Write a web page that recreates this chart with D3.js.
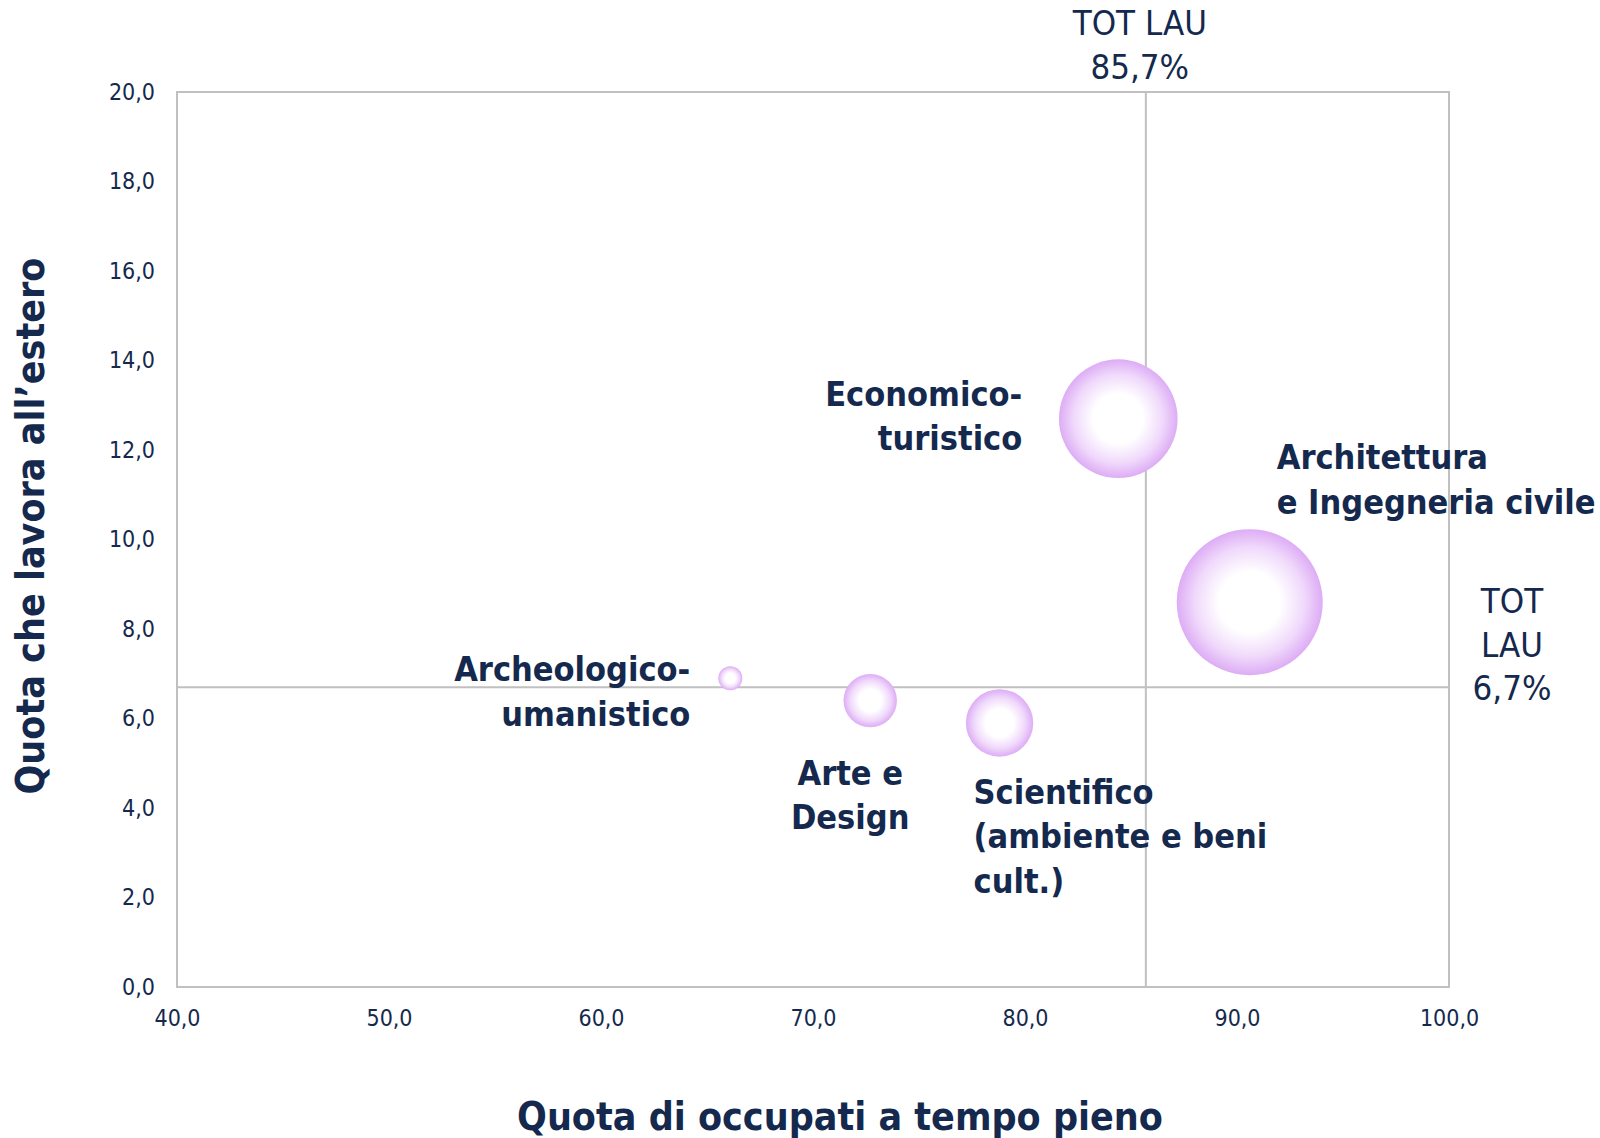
<!DOCTYPE html>
<html>
<head>
<meta charset="utf-8">
<script src="https://cdn.jsdelivr.net/npm/d3@7"></script>
<style>
  body { margin: 0; background: #fff; }
  text { font-family: "DejaVu Sans Condensed", "DejaVu Sans", sans-serif; fill: #14294d; }
  .axis text { font-size: 23px; }
  .bubble-label { font-size: 34px; font-weight: bold; }
  .tot-label { font-size: 34.5px; }
  .title { font-size: 39px; font-weight: bold; }
</style>
</head>
<body>
<div id="canvas"></div>
<script>
// data
var categories = ['Archeologico-umanistico', 'Arte e Design', 'Scientifico (ambiente e beni cult.)', 'Economico-turistico', 'Architettura e Ingegneria civile'];
var labelLines = [['Archeologico-', 'umanistico'], ['Arte e', 'Design'], ['Scientifico', '(ambiente e beni', 'cult.)'], ['Economico-', 'turistico'], ['Architettura', 'e Ingegneria civile']];
var fullTime = [66.1, 72.7, 78.8, 84.4, 90.6];   // x: quota di occupati a tempo pieno
var abroad = [6.9, 6.4, 5.9, 12.7, 8.6];         // y: quota che lavora all'estero
var bubbleSize = [2.7, 13.4, 21.3, 66, 100];      // relative bubble size
var totX = 85.7, totY = 6.7;
var xTicks = [40, 50, 60, 70, 80, 90, 100];
var yTicks = [0, 2, 4, 6, 8, 10, 12, 14, 16, 18, 20];

// label placement (offset from bubble centre, px)
var labelPos = [
    {dx: -40, dy: 3, anchor: 'end'},
    {dx: -20, dy: 84, anchor: 'middle'},
    {dx: -26, dy: 81, anchor: 'start'},
    {dx: -96, dy: -13, anchor: 'end'},
    {dx: 27, dy: -133, anchor: 'start'}
];

var W = 1600, H = 1138;
var m = {t: 92, r: 151, b: 151, l: 177};
var w = W - m.l - m.r,
    h = H - m.t - m.b;

var svg = d3.select('#canvas')
    .append('svg')
    .attr('width', W)
    .attr('height', H);

var defs = svg.append('defs');
var grad = defs.append('radialGradient').attr('id', 'bubbleGrad');
grad.append('stop').attr('offset', '0%').attr('stop-color', '#ffffff');
grad.append('stop').attr('offset', '42%').attr('stop-color', '#ffffff');
grad.append('stop').attr('offset', '75%').attr('stop-color', '#f0d9fb');
grad.append('stop').attr('offset', '100%').attr('stop-color', '#ddacf5');

var plot = svg.append('g')
    .attr('transform', 'translate(' + m.l + ',' + m.t + ')');

var scaleX = d3.scaleLinear().domain([40, 100]).range([0, w]);
var scaleY = d3.scaleLinear().domain([0, 20]).range([h, 0]);
var scaleSize = d3.scaleSqrt().domain([0, 100]).range([0, 73]);

var fmt = function(d){ return d3.format('.1f')(d).replace('.', ','); };

//axes
var axisX = d3.axisBottom(scaleX).tickValues(xTicks).tickSize(0).tickPadding(16).tickFormat(fmt);
var axisY = d3.axisLeft(scaleY).tickValues(yTicks).tickSize(0).tickPadding(22).tickFormat(fmt);
plot.append('g').attr('class', 'axis axis-x')
    .attr('transform', 'translate(0,' + h + ')')
    .call(axisX);
plot.append('g').attr('class', 'axis axis-y').call(axisY);
plot.selectAll('.axis .domain').remove();
plot.selectAll('.axis-x text').attr('dy', '1.0em');

// plot frame
plot.append('rect')
    .attr('width', w).attr('height', h)
    .attr('fill', 'none')
    .attr('stroke', '#c0c0c0')
    .attr('stroke-width', 2);

// reference lines (TOT LAU)
plot.append('line')
    .attr('x1', scaleX(totX)).attr('x2', scaleX(totX))
    .attr('y1', 0).attr('y2', h)
    .attr('stroke', '#c0c0c0').attr('stroke-width', 2);
plot.append('line')
    .attr('x1', 0).attr('x2', w)
    .attr('y1', scaleY(totY)).attr('y2', scaleY(totY))
    .attr('stroke', '#c0c0c0').attr('stroke-width', 2);

var topLab = plot.append('text').attr('class', 'tot-label')
    .attr('text-anchor', 'middle');
topLab.append('tspan').attr('x', scaleX(totX) - 6).attr('y', 35 - m.t).text('TOT LAU');
topLab.append('tspan').attr('x', scaleX(totX) - 6).attr('y', 79 - m.t).text(fmt(totX) + '%');

var rightLab = plot.append('text').attr('class', 'tot-label')
    .attr('text-anchor', 'middle');
['TOT', 'LAU', fmt(totY) + '%'].forEach(function(s, i){
    rightLab.append('tspan')
        .attr('x', w + 63)
        .attr('y', scaleY(totY) - 74 + i * 43.5)
        .text(s);
});

// bubbles
var rows = categories.map(function(c, i){
    return {name: c, x: fullTime[i], y: abroad[i], size: bubbleSize[i], lines: labelLines[i], pos: labelPos[i]};
});

plot.selectAll('.bubble')
    .data(rows)
    .enter()
    .append('circle')
    .attr('class', 'bubble')
    .attr('cx', function(d){ return scaleX(d.x); })
    .attr('cy', function(d){ return scaleY(d.y); })
    .attr('r', function(d){ return scaleSize(d.size); })
    .attr('fill', 'url(#bubbleGrad)');

var labels = plot.selectAll('.bubble-label')
    .data(rows)
    .enter()
    .append('text')
    .attr('class', 'bubble-label')
    .attr('text-anchor', function(d){ return d.pos.anchor; });

labels.each(function(d){
    var t = d3.select(this);
    d.lines.forEach(function(s, i){
        t.append('tspan')
            .attr('x', scaleX(d.x) + d.pos.dx)
            .attr('y', scaleY(d.y) + d.pos.dy + i * 44.5)
            .text(s);
    });
});

// axis titles
svg.append('text').attr('class', 'title')
    .attr('text-anchor', 'middle')
    .attr('x', 840).attr('y', 1130)
    .text('Quota di occupati a tempo pieno');

svg.append('text').attr('class', 'title')
    .attr('text-anchor', 'middle')
    .attr('transform', 'translate(44,526) rotate(-90)')
    .text('Quota che lavora all\u2019estero');
</script>
</body>
</html>
